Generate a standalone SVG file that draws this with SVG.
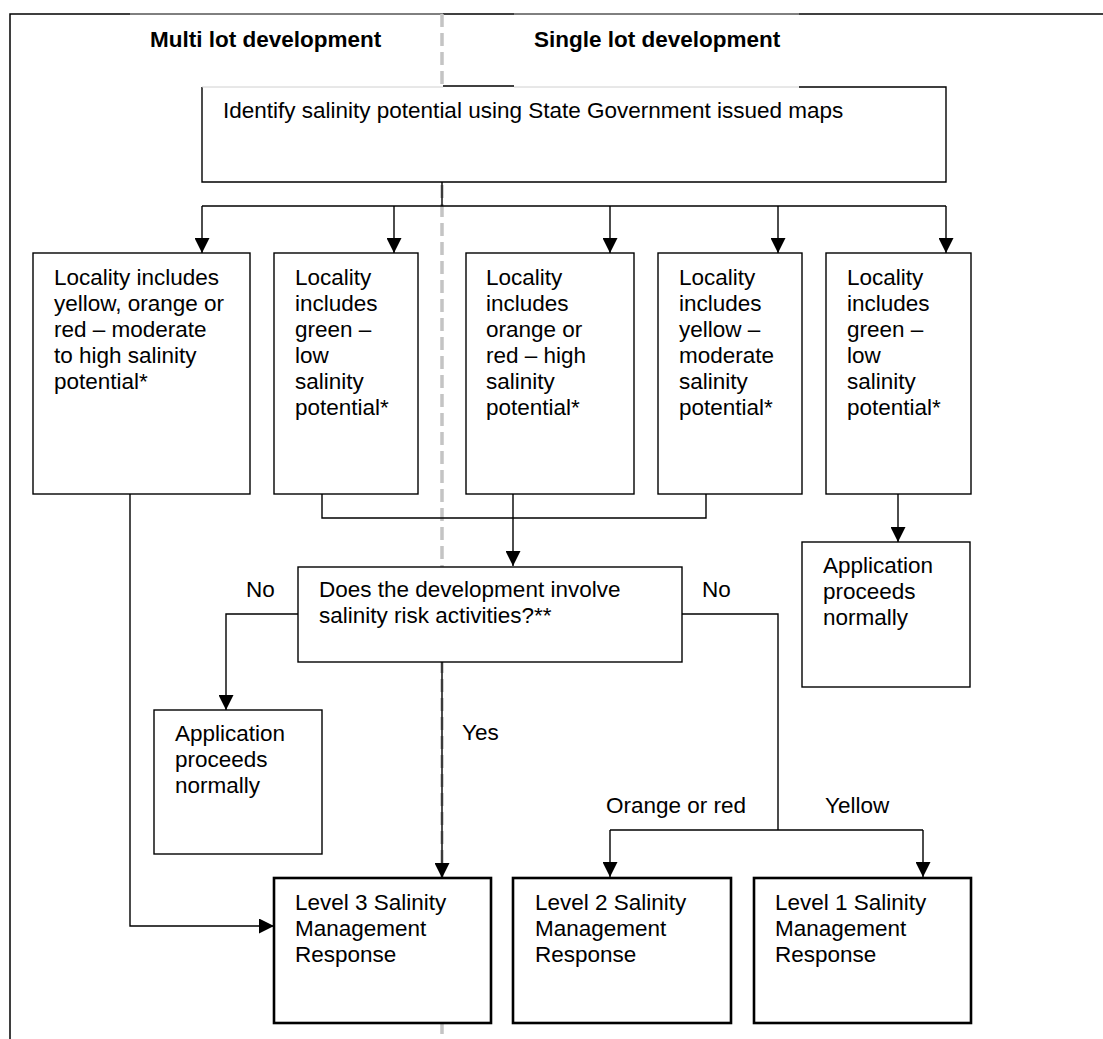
<svg xmlns="http://www.w3.org/2000/svg" width="1103" height="1039" viewBox="0 0 1103 1039">
<style>
  text { font-family: "Liberation Sans", Arial, sans-serif; font-size: 22.5px; fill: #000; }
  .hdr { font-weight: bold; }
  .box { fill: #fff; stroke: #000; stroke-width: 1.4; }
  .lvl { fill: #fff; stroke: #000; stroke-width: 2.6; }
  .conn { fill: none; stroke: #000; stroke-width: 1.4; }
  .frame { fill: none; stroke: #000; stroke-width: 1.5; }
  .divider { fill: none; stroke: #c4c4c4; stroke-width: 3.5; stroke-dasharray: 13 6; }
</style>
<defs>
  <marker id="arr" markerUnits="userSpaceOnUse" markerWidth="15" markerHeight="15" viewBox="0 0 15 15" refX="15" refY="7.5" orient="auto">
    <path d="M0,0 L15,7.5 L0,15 z" fill="#000"/>
  </marker>
</defs>
<rect width="1103" height="1039" fill="#fff"/>

<g id="frame">
  <path class="frame" d="M10,1039 V14 H130"/>
  <path d="M130,14 H443" stroke="#000" stroke-width="1" fill="none"/>
  <path class="frame" d="M443,14 H514"/>
  <path d="M514,14 H799" stroke="#000" stroke-width="1" fill="none"/>
  <path class="frame" d="M799,14 H1103"/>
</g>

<g id="divider">
  <path class="divider" d="M442,14 V1039"/>
</g>

<g id="headers">
  <text class="hdr" x="150" y="47">Multi lot development</text>
  <text class="hdr" x="534" y="47">Single lot development</text>
</g>

<g id="n-identify">
  <path class="box" d="M799,87 H946 V182 H202 V87" />
  <path d="M202,87 H443 M514,87 H799" stroke="#d0d0d0" stroke-width="1" fill="none"/>
  <path class="frame" d="M443,86 H514"/>
  <text x="223" y="118">Identify salinity potential using State Government issued maps</text>
</g>

<g id="connectors">
  <path class="conn" d="M442,182 V206"/>
  <path class="conn" d="M202,206 H946"/>
  <path class="conn" d="M202,206 V253" marker-end="url(#arr)"/>
  <path class="conn" d="M394,206 V253" marker-end="url(#arr)"/>
  <path class="conn" d="M610,206 V253" marker-end="url(#arr)"/>
  <path class="conn" d="M778,206 V253" marker-end="url(#arr)"/>
  <path class="conn" d="M946,206 V253" marker-end="url(#arr)"/>
  <path class="conn" d="M322,494 V518 H706 V494"/>
  <path class="conn" d="M513,494 V566" marker-end="url(#arr)"/>
  <path class="conn" d="M898,494 V542" marker-end="url(#arr)"/>
  <path class="conn" d="M130,494 V926 H274" marker-end="url(#arr)"/>
  <path class="conn" d="M298,614 H226 V710" marker-end="url(#arr)"/>
  <path class="conn" d="M682,614 H778 V830"/>
  <path class="conn" d="M442,662 V878" marker-end="url(#arr)"/>
  <path class="conn" d="M610,830 H923"/>
  <path class="conn" d="M610,830 V877" marker-end="url(#arr)"/>
  <path class="conn" d="M923,830 V877" marker-end="url(#arr)"/>
  <text x="246" y="597">No</text>
  <text x="702" y="597">No</text>
  <text x="462" y="740">Yes</text>
  <text x="606" y="813">Orange or red</text>
  <text x="825" y="813">Yellow</text>
</g>

<g id="n-multi-moderate-high">
  <rect class="box" x="33" y="253" width="217" height="241"/>
  <text x="54" y="285">Locality includes</text>
  <text x="54" y="311">yellow, orange or</text>
  <text x="54" y="337">red – moderate</text>
  <text x="54" y="363">to high salinity</text>
  <text x="54" y="389">potential*</text>
</g>

<g id="n-multi-low">
  <rect class="box" x="274" y="253" width="144" height="241"/>
  <text x="295" y="285">Locality</text>
  <text x="295" y="311">includes</text>
  <text x="295" y="337">green –</text>
  <text x="295" y="363">low</text>
  <text x="295" y="389">salinity</text>
  <text x="295" y="415">potential*</text>
</g>

<g id="n-single-high">
  <rect class="box" x="466" y="253" width="168" height="241"/>
  <text x="486" y="285">Locality</text>
  <text x="486" y="311">includes</text>
  <text x="486" y="337">orange or</text>
  <text x="486" y="363">red – high</text>
  <text x="486" y="389">salinity</text>
  <text x="486" y="415">potential*</text>
</g>

<g id="n-single-moderate">
  <rect class="box" x="658" y="253" width="144" height="241"/>
  <text x="679" y="285">Locality</text>
  <text x="679" y="311">includes</text>
  <text x="679" y="337">yellow –</text>
  <text x="679" y="363">moderate</text>
  <text x="679" y="389">salinity</text>
  <text x="679" y="415">potential*</text>
</g>

<g id="n-single-low">
  <rect class="box" x="826" y="253" width="145" height="241"/>
  <text x="847" y="285">Locality</text>
  <text x="847" y="311">includes</text>
  <text x="847" y="337">green –</text>
  <text x="847" y="363">low</text>
  <text x="847" y="389">salinity</text>
  <text x="847" y="415">potential*</text>
</g>

<g id="n-decision">
  <rect class="box" x="298" y="567" width="384" height="95"/>
  <text x="319" y="597">Does the development involve</text>
  <text x="319" y="623">salinity risk activities?**</text>
</g>

<g id="n-app-right">
  <rect class="box" x="802" y="542" width="168" height="145"/>
  <text x="823" y="573">Application</text>
  <text x="823" y="599">proceeds</text>
  <text x="823" y="625">normally</text>
</g>

<g id="n-app-left">
  <rect class="box" x="154" y="710" width="168" height="144"/>
  <text x="175" y="741">Application</text>
  <text x="175" y="767">proceeds</text>
  <text x="175" y="793">normally</text>
</g>

<g id="n-level3">
  <rect class="lvl" x="274" y="878" width="217" height="145"/>
  <text x="295" y="910">Level 3 Salinity</text>
  <text x="295" y="936">Management</text>
  <text x="295" y="962">Response</text>
</g>

<g id="n-level2">
  <rect class="lvl" x="513" y="878" width="218" height="145"/>
  <text x="535" y="910">Level 2 Salinity</text>
  <text x="535" y="936">Management</text>
  <text x="535" y="962">Response</text>
</g>

<g id="n-level1">
  <rect class="lvl" x="754" y="878" width="217" height="145"/>
  <text x="775" y="910">Level 1 Salinity</text>
  <text x="775" y="936">Management</text>
  <text x="775" y="962">Response</text>
</g>
</svg>
